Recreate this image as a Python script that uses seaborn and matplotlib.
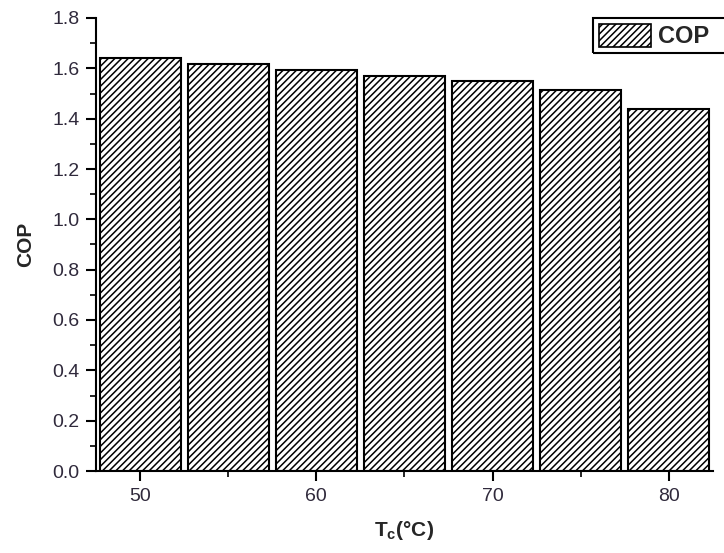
import matplotlib
matplotlib.use("Agg")
import matplotlib.pyplot as plt
from matplotlib.patches import Patch, Rectangle
from matplotlib.ticker import MultipleLocator
import seaborn as sns
import pandas as pd

# Condenser temperature (°C) and coefficient of performance
tc_values = [50, 55, 60, 65, 70, 75, 80]
cop_values = [1.641, 1.617, 1.592, 1.568, 1.548, 1.512, 1.437]

sns.set_theme(style="ticks")
plt.rcParams["font.family"] = ["Liberation Sans", "DejaVu Sans"]
plt.rcParams["hatch.linewidth"] = 1.1
plt.rcParams["hatch.color"] = "black"

df = pd.DataFrame({"Tc": tc_values, "COP": cop_values})

W, H = 724, 553
fig = plt.figure(figsize=(W / 100, H / 100), dpi=100)
ax = fig.add_axes([96 / W, 1 - 471 / H, (713 - 96) / W, (471 - 18) / H])

sns.barplot(data=df, x="Tc", y="COP", native_scale=True, width=0.92,
            color="white", edgecolor="black", linewidth=1.5, ax=ax)
for bar in ax.patches:
    bar.set_hatch("/////")
    bar.set_facecolor("white")
    bar.set_edgecolor("black")

ax.set_xlim(47.5, 82.5)
ax.set_ylim(0, 1.8)
ax.xaxis.set_major_locator(MultipleLocator(10))
ax.xaxis.set_minor_locator(MultipleLocator(5))
ax.yaxis.set_major_locator(MultipleLocator(0.2))
ax.yaxis.set_minor_locator(MultipleLocator(0.1))
ax.set_yticklabels([f"{v:.1f}" for v in ax.get_yticks()])

sns.despine(ax=ax)
for side in ("left", "bottom"):
    ax.spines[side].set_linewidth(1.5)
    ax.spines[side].set_color("black")

ax.tick_params(which="major", direction="out", length=7, width=1.5,
               colors="black", labelcolor="#302a3c", labelsize=14, pad=5)
ax.tick_params(which="minor", direction="out", length=4, width=1.2, colors="black")

ax.set_xlabel("T$_\\mathregular{c}$(°C)", fontsize=15, fontweight="bold", labelpad=10)
ax.set_ylabel("COP", fontsize=15, fontweight="bold", labelpad=12)

# Legend: its box runs on past the right edge of the figure
handle = Patch(facecolor="white", edgecolor="black", hatch="/////", linewidth=1.2)
leg = fig.legend([handle], ["COP"], loc="upper left",
                 bbox_to_anchor=(593 / W, 1 - 18 / H),
                 prop={"weight": "bold", "size": 17},
                 handlelength=2.2, handleheight=1.1, handletextpad=0.3,
                 borderpad=0.25, borderaxespad=0, frameon=False)
fig.patches.append(Rectangle((593 / W, 1 - 53 / H), 160 / W, 35 / H,
                             transform=fig.transFigure, facecolor="none",
                             edgecolor="black", linewidth=1.5, zorder=0))

fig.savefig("out.png", dpi=100)
